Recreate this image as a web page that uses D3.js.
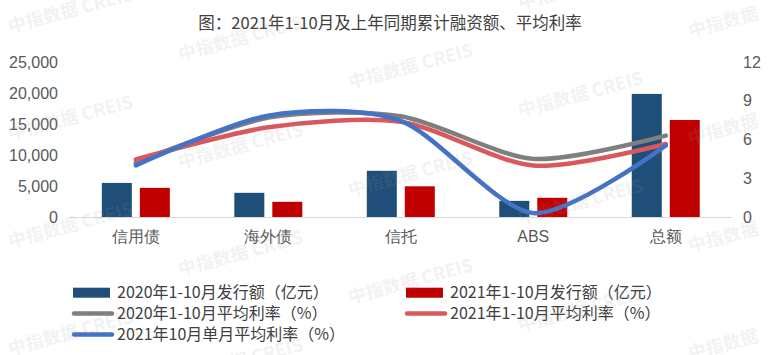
<!DOCTYPE html>
<html><head><meta charset="utf-8">
<script src="https://cdn.jsdelivr.net/npm/d3@7"></script>
<style>
html,body{margin:0;padding:0;background:#fff;}
svg{display:block;font-family:"Noto Sans CJK SC","Noto Sans",sans-serif;}
</style></head>
<body><svg id="c" width="775" height="355"></svg>
<script>
const title = "图：2021年1-10月及上年同期累计融资额、平均利率";
const categories = ["信用债","海外债","信托","ABS","总额"];
const issue2020 = [5500, 3900, 7450, 2600, 19850];
const issue2021 = [4700, 2450, 4950, 3100, 15650];
const rate2020 = [4.2, 7.7, 7.8, 4.5, 6.3];
const rate2021 = [4.45, 6.95, 7.38, 3.98, 5.65];
const rateOct2021 = [4.0, 7.85, 7.45, 0.3, 5.55];
const leftTicks = [0, 5000, 10000, 15000, 20000, 25000];
const rightTicks = [0, 3, 6, 9, 12];
const seriesNames = ["2020年1-10月发行额（亿元）","2021年1-10月发行额（亿元）","2020年1-10月平均利率（%）","2021年1-10月平均利率（%）","2021年10月单月平均利率（%）"];
const colors = ["#1f4e79","#c00000","#7f7f7f","#d9585e","#4472c4"];
const watermark = "中指数据 CREIS";

const svg = d3.select("#c");
const x = d3.scaleBand().domain(categories).range([69.6, 732]);
const xi = d3.scaleBand().domain(["2020","2021"]).range([0, 68]).paddingInner(8/38);
const off = (x.bandwidth() - 68) / 2;
const yL = d3.scaleLinear().domain([0, 25000]).range([217, 62]);
const yR = d3.scaleLinear().domain([0, 12]).range([217, 62]);

// title
svg.append("text").attr("x", 390).attr("y", 23).attr("dy", "0.35em")
  .attr("text-anchor", "middle").attr("font-size", 16.5).attr("fill", "#404040").text(title);

// left axis
const gL = svg.append("g").attr("transform", "translate(62,0)")
  .call(d3.axisLeft(yL).tickValues(leftTicks).tickFormat(d3.format(",")).tickSize(0).tickPadding(4));
gL.select(".domain").remove();
gL.selectAll("text").attr("font-size", 16).attr("fill", "#595959").attr("font-family", null);

// right axis
const gR = svg.append("g").attr("transform", "translate(740,0)")
  .call(d3.axisRight(yR).tickValues(rightTicks).tickSize(0).tickPadding(3));
gR.select(".domain").remove();
gR.selectAll("text").attr("font-size", 16).attr("fill", "#595959").attr("font-family", null);

// bars
const barData = [issue2020, issue2021];
["2020","2021"].forEach((k, si) => {
  svg.append("g").selectAll("rect").data(barData[si]).join("rect")
    .attr("x", (d, i) => x(categories[i]) + off + xi(k))
    .attr("width", xi.bandwidth())
    .attr("y", d => yL(d))
    .attr("height", d => yL(0) - yL(d))
    .attr("fill", colors[si]);
});

// baseline
svg.append("line").attr("x1", x.range()[0]).attr("x2", x.range()[1])
  .attr("y1", yL(0) + 0.5).attr("y2", yL(0) + 0.5).attr("stroke", "#d9d9d9").attr("stroke-width", 1);

// x axis labels
const gX = svg.append("g").attr("transform", `translate(0,${yL(0)})`)
  .call(d3.axisBottom(x).tickSize(0).tickPadding(14));
gX.select(".domain").remove();
gX.selectAll("text").attr("font-size", 16).attr("fill", "#595959").attr("font-family", null);

// lines
const line = d3.line()
  .x((d, i) => x(categories[i]) + x.bandwidth() / 2)
  .y(d => yR(d))
  .curve(d3.curveCardinal.tension(0.2));
[rate2020, rate2021, rateOct2021].forEach((s, j) => {
  svg.append("path").attr("d", line(s)).attr("fill", "none")
    .attr("stroke", colors[j + 2]).attr("stroke-width", 4.5).attr("stroke-linecap", "round");
});

// legend
const legendPos = [[73, 292.7], [406, 292.7], [73, 313.5], [406, 313.5], [73, 334.5]];
seriesNames.forEach((name, i) => {
  const [lx, ly] = legendPos[i];
  const g = svg.append("g");
  if (i < 2) {
    g.append("rect").attr("x", lx).attr("y", ly - 5).attr("width", 37).attr("height", 10).attr("fill", colors[i]);
  } else {
    g.append("line").attr("x1", lx + 1).attr("x2", lx + 39).attr("y1", ly).attr("y2", ly)
      .attr("stroke", colors[i]).attr("stroke-width", 4.5).attr("stroke-linecap", "round");
  }
  g.append("text").attr("x", lx + 44).attr("y", ly).attr("dy", "0.35em")
    .attr("font-size", 16).attr("fill", "#404040").text(name);
});

// watermark
const wm = svg.append("g").attr("pointer-events", "none");
for (let i = 0; i < 5; i++) {
  for (let k = -1; k < 4; k++) {
    const wx = 10 + 170 * i, wy = 33 + 28 * i + 107.5 * k;
    if (wy < -10 || wy > 400) continue;
    wm.append("text").attr("transform", `translate(${wx},${wy}) rotate(-15)`)
      .attr("font-size", 18).attr("font-weight", "bold").attr("fill", "#999").attr("fill-opacity", 0.14)
      .text(i === 4 ? "中指数据" : watermark);
  }
}
</script></body></html>
